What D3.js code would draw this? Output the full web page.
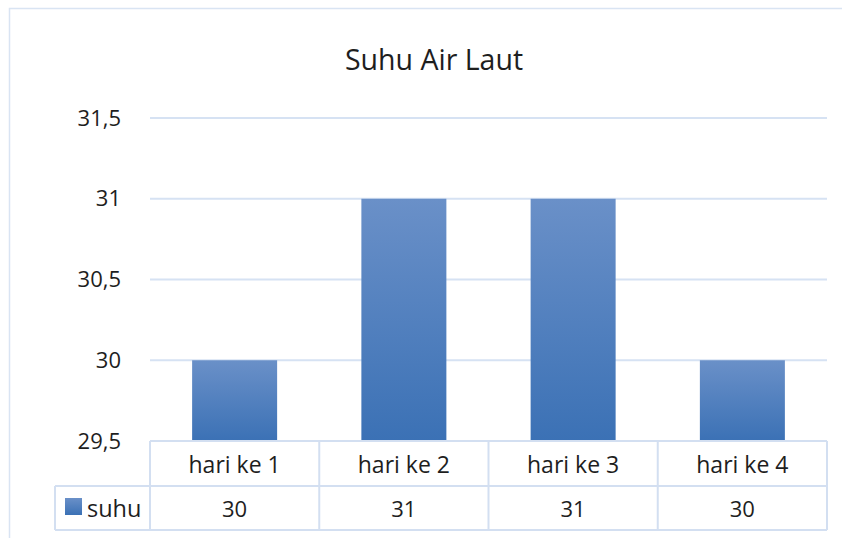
<!DOCTYPE html>
<html>
<head>
<meta charset="utf-8">
<script src="https://cdn.jsdelivr.net/npm/d3@7"></script>
<style>
  body { margin: 0; background: #fff; }
  svg text { font-family: "Open Sans", "Noto Sans", sans-serif; fill: #1e1e1e; }
</style>
</head>
<body>
<svg id="chart" width="842" height="538"></svg>
<script>
var categories = ["hari ke 1", "hari ke 2", "hari ke 3", "hari ke 4"];
var seriesName = "suhu";
var suhu = [30, 31, 31, 30];
var yTicks = [29.5, 30, 30.5, 31, 31.5];

var svg = d3.select("#chart");
var plot = { left: 150, right: 827, top: 118, bottom: 441 };
var rowH = 44;

// gradient for bars
var defs = svg.append("defs");
var grad = defs.append("linearGradient").attr("id", "barGrad")
	.attr("x1", 0).attr("y1", 0).attr("x2", 0).attr("y2", 1);
grad.append("stop").attr("offset", "0%").attr("stop-color", "#6a90c8");
grad.append("stop").attr("offset", "100%").attr("stop-color", "#3b71b5");

// chart area border
svg.append("rect")
	.attr("x", 9.5).attr("y", 8.5).attr("width", 850).attr("height", 540)
	.attr("fill", "none").attr("stroke", "#d9e4f3").attr("stroke-width", 1.5);

var x = d3.scaleBand().domain(categories).range([plot.left, plot.right]).paddingInner(0).paddingOuter(0);
var y = d3.scaleLinear().domain([29.5, 31.5]).range([plot.bottom, plot.top]);

// title
svg.append("text")
	.attr("x", 434).attr("y", 70)
	.attr("text-anchor", "middle")
	.style("font-size", "28.5px")
	.text("Suhu Air Laut");

// grid lines
svg.append("g").selectAll("line")
	.data(yTicks.filter(function(d){ return d > 29.5; }))
	.enter().append("line")
		.attr("x1", plot.left).attr("x2", plot.right)
		.attr("y1", function(d){ return y(d); })
		.attr("y2", function(d){ return y(d); })
		.attr("stroke", "#d6e2f3").attr("stroke-width", 2);

// y axis labels
var fmt = function(d){ return String(d).replace(".", ","); };
svg.append("g").selectAll("text")
	.data(yTicks)
	.enter().append("text")
		.attr("x", 121)
		.attr("y", function(d){ return y(d); })
		.attr("dy", "0.35em")
		.attr("text-anchor", "end")
		.style("font-size", "22px")
		.text(fmt);

// bars
var barW = 85;
svg.append("g").selectAll("rect")
	.data(suhu)
	.enter().append("rect")
		.attr("x", function(d, i){ return x(categories[i]) + (x.bandwidth() - barW) / 2; })
		.attr("y", function(d){ return y(d); })
		.attr("width", barW)
		.attr("height", function(d){ return plot.bottom - y(d); })
		.attr("fill", "url(#barGrad)");

// data table
var table = svg.append("g");
var lineColor = "#d3dff1";
var tTop = plot.bottom, tMid = plot.bottom + rowH + 1, tBot = tMid + rowH;
var legendLeft = 55;

table.append("line").attr("x1", plot.left).attr("x2", plot.right).attr("y1", tTop).attr("y2", tTop)
	.attr("stroke", lineColor).attr("stroke-width", 2);
table.append("line").attr("x1", legendLeft).attr("x2", plot.right).attr("y1", tMid).attr("y2", tMid)
	.attr("stroke", lineColor).attr("stroke-width", 2);
table.append("line").attr("x1", legendLeft).attr("x2", plot.right).attr("y1", tBot).attr("y2", tBot)
	.attr("stroke", lineColor).attr("stroke-width", 2);
table.append("line").attr("x1", legendLeft).attr("x2", legendLeft).attr("y1", tMid).attr("y2", tBot)
	.attr("stroke", lineColor).attr("stroke-width", 2);

var verts = categories.map(function(c){ return x(c); }).concat([plot.right]);
table.selectAll("line.v")
	.data(verts)
	.enter().append("line").attr("class", "v")
		.attr("x1", function(d){ return d; }).attr("x2", function(d){ return d; })
		.attr("y1", tTop).attr("y2", tBot)
		.attr("stroke", lineColor).attr("stroke-width", 2);

table.selectAll("text.cat")
	.data(categories)
	.enter().append("text").attr("class", "cat")
		.attr("x", function(d){ return x(d) + x.bandwidth() / 2; })
		.attr("y", (tTop + tMid) / 2 + 1)
		.attr("dy", "0.35em")
		.attr("text-anchor", "middle")
		.style("font-size", "23px")
		.text(function(d){ return d; });

table.selectAll("text.val")
	.data(suhu)
	.enter().append("text").attr("class", "val")
		.attr("x", function(d, i){ return x(categories[i]) + x.bandwidth() / 2; })
		.attr("y", (tMid + tBot) / 2 + 1)
		.attr("dy", "0.35em")
		.attr("text-anchor", "middle")
		.style("font-size", "22px")
		.text(function(d){ return d; });

// legend key
table.append("rect")
	.attr("x", 65).attr("y", 498).attr("width", 17).attr("height", 17)
	.attr("fill", "url(#barGrad)");
table.append("text")
	.attr("x", 87).attr("y", (tMid + tBot) / 2 + 1)
	.attr("dy", "0.35em")
	.style("font-size", "23.5px")
	.text(seriesName);
</script>
</body>
</html>
